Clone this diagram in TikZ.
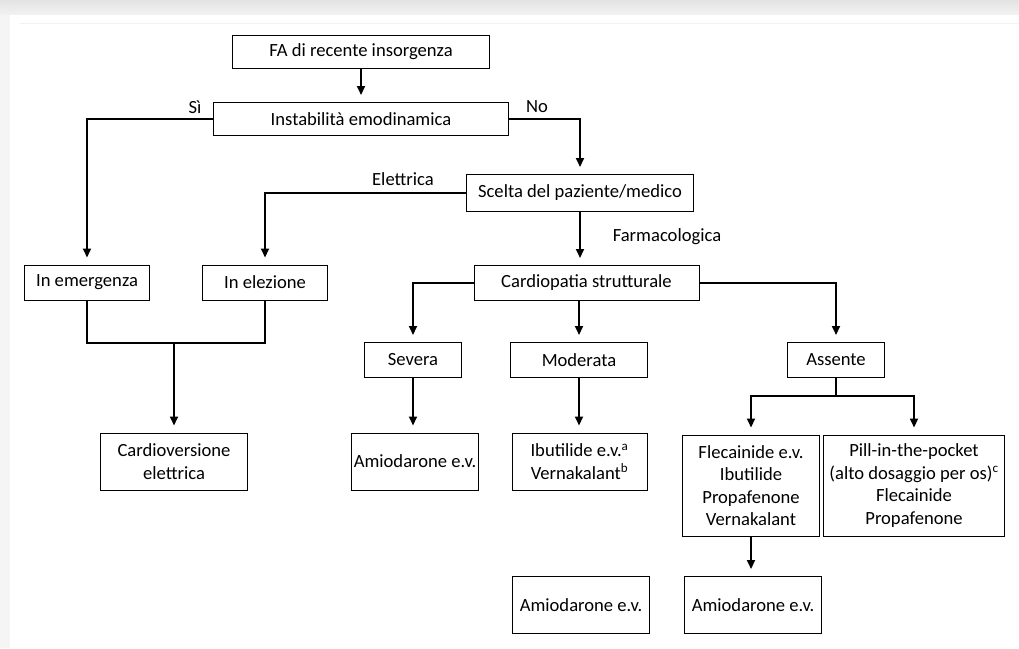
\documentclass[tikz,border=0pt]{standalone}
\usepackage{fontspec}
\setmainfont{Carlito}
\usetikzlibrary{arrows.meta}
\definecolor{bartop}{HTML}{E3E3E3}
\definecolor{barbot}{HTML}{F1F1F1}
\definecolor{sidebar}{HTML}{F5F5F5}
\definecolor{faint}{HTML}{F2F2F2}
\begin{document}
\begin{tikzpicture}[x=1pt,y=-1pt,
  box/.style={draw,line width=1pt,fill=white,inner sep=0pt,align=center,
    font=\fontsize{18.6}{22.5}\selectfont},
  conn/.style={line width=2pt},
  arr/.style={conn,-{Triangle[width=8pt,length=9pt]},shorten >=7pt},
  lbl/.style={font=\fontsize{18.6}{20}\selectfont,inner sep=0pt}]
\useasboundingbox (0,0) rectangle (1019,648);
\fill[white] (0,0) rectangle (1019,648);
\fill[sidebar] (0,0) rectangle (10,648);
\shade[top color=bartop,bottom color=barbot] (0,0) rectangle (1019,14);
\draw[faint,line width=0.8pt] (20,23) -- (1019,23);

% nodes
\node[box,minimum width=257pt,minimum height=33pt] (fa) at (361,51.5) {FA di recente insorgenza};
\node[box,minimum width=295pt,minimum height=33pt] (inst) at (361,119) {Instabilità emodinamica};
\node[box,minimum width=227pt,minimum height=37pt] (scelta) at (580,193) {Scelta del paziente/medico};
\node[box,minimum width=125pt,minimum height=35pt] (emerg) at (87,282.5) {In emergenza};
\node[box,minimum width=125pt,minimum height=35pt] (elez) at (265,282.5) {In elezione};
\node[box,minimum width=225pt,minimum height=35pt] (cardio) at (586.5,283) {Cardiopatia strutturale};
\node[box,minimum width=97pt,minimum height=35pt] (severa) at (413,360) {Severa};
\node[box,minimum width=137pt,minimum height=35pt] (moderata) at (579,360) {Moderata};
\node[box,minimum width=97pt,minimum height=35pt] (assente) at (836,360) {Assente};
\node[box,minimum width=147pt,minimum height=57pt] (cv) at (174,461.5) {Cardioversione\\elettrica};
\node[box,minimum width=127pt,minimum height=57pt] (amio1) at (415,461.5) {Amiodarone e.v.};
\node[box,minimum width=135pt,minimum height=57pt] (ibut) at (579.5,461.5) {Ibutilide e.v.\textsuperscript{a}\\Vernakalant\textsuperscript{b}};
\node[box,minimum width=137pt,minimum height=101pt] (flec) at (751,485.5) {Flecainide e.v.\\Ibutilide\\Propafenone\\Vernakalant};
\node[box,minimum width=181pt,minimum height=101pt] (pill) at (914,485.5) {Pill-in-the-pocket\\(alto dosaggio per os)\textsuperscript{c}\\Flecainide\\Propafenone};
\node[box,minimum width=137pt,minimum height=57pt] (amio2) at (581,605) {Amiodarone e.v.};
\node[box,minimum width=137pt,minimum height=57pt] (amio3) at (753,605) {Amiodarone e.v.};

% labels
\node[lbl] (lsi) at (195,107) {Sì};
\node[lbl] (lno) at (537,107) {No};
\node[lbl] (lel) at (403,179) {Elettrica};
\node[lbl] (lfa) at (667,237) {Farmacologica};

% connectors
\draw[arr] (fa.south) -- (inst.north);
\draw[arr] (inst.west) -| (emerg.north);
\draw[arr] (inst.east) -| (scelta.north);
\draw[arr] (scelta.west) -| (elez.north);
\draw[arr] (scelta.south) -- (scelta.south |- cardio.north);
\draw[arr] (cardio.west) -| (severa.north);
\draw[arr] (moderata.north |- cardio.south) -- (moderata.north);
\draw[arr] (cardio.east) -| (assente.north);

\coordinate (aj) at (836,396);
\draw[conn] (assente.south) -- (aj);
\draw[arr] (aj) -| (flec.north);
\draw[arr] (aj) -| (pill.north);

\coordinate (lj) at (174,343);
\draw[conn] (emerg.south) |- (elez.south |- lj) -- (elez.south);
\draw[arr] (lj) -- (cv.north);

\draw[arr] (severa.south) -- (severa.south |- amio1.north);
\draw[arr] (moderata.south) -- (moderata.south |- ibut.north);
\draw[arr] (flec.south) -- (flec.south |- amio3.north);
\end{tikzpicture}
\end{document}
